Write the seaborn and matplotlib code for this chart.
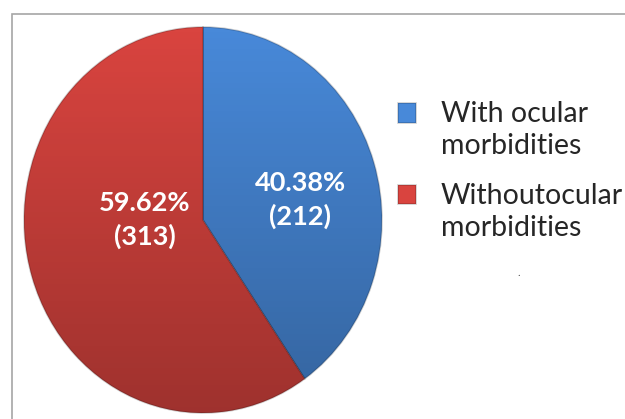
import numpy as np
import seaborn as sns
import matplotlib.pyplot as plt
import matplotlib.patches as mpatches
from matplotlib.legend_handler import HandlerPatch

# Datos del gráfico
categorias = ["With ocular\nmorbidities", "Withoutocular\nmorbidities"]
conteos = [212, 313]
porcentajes = [40.38, 59.62]
colores = ["#4889D9", "#D9443F"]

sns.set_style("white")
plt.rcParams['font.family'] = ['Lato', 'DejaVu Sans']

fig = plt.figure(figsize=(6.25, 4.19), dpi=100)
# eje colocado en pixeles para que la torta quede algo ovalada como el original
ax = fig.add_axes([24 / 625, 6 / 419, 358 / 625, 386 / 419])

wedges, _ = ax.pie(conteos, colors=colores, startangle=90, counterclock=False,
                   radius=1, wedgeprops=dict(linewidth=1.2, edgecolor="#00000030"))
ax.set_aspect('auto')
ax.set_xlim(-1, 1)
ax.set_ylim(-1, 1)
ax.axis('off')

# degradado vertical (mas oscuro abajo) recortado a cada porcion
grad = np.zeros((200, 2, 4))
t = np.linspace(0, 1, 200)[:, None]
grad[..., 3] = 0.27 * t
for w in wedges:
    im = ax.imshow(grad, extent=(-1, 1, -1, 1), origin='upper', aspect='auto',
                   zorder=w.get_zorder() + 0.5)
    im.set_clip_path(w)
    im.set_clip_on(True)

# etiquetas de porcentaje y conteo
pos_etiquetas = [(0.542, 0.104), (-0.324, 0.0)]
for (x, y), p, n in zip(pos_etiquetas, porcentajes, conteos):
    ax.text(x, y, f"{p:.2f}%\n({n})", color="white", fontsize=19.5, fontweight="bold",
            ha="center", va="center", linespacing=1.4, zorder=5)


# cuadrito de la leyenda alineado con la primera linea del texto
def cuadro(legend, orig_handle, xdescent, ydescent, width, height, fontsize):
    return mpatches.Rectangle((-xdescent, -ydescent + 0.62 * fontsize), width, height)


leg = ax.legend(wedges, categorias, loc="center left", bbox_to_anchor=(372 / 625, 1 - 171 / 419),
                bbox_transform=fig.transFigure, frameon=False, fontsize=20.5,
                handlelength=0.66, handleheight=0.66, handletextpad=0.85, labelspacing=0.85,
                handler_map={mpatches.Wedge: HandlerPatch(patch_func=cuadro)})
for txt in leg.get_texts():
    txt.set_linespacing(1.26)

fig.text(517 / 625, 1 - 276 / 419, ".", color="#555555", fontsize=8)

# marco del grafico (solo se ve arriba y a la izquierda)
fig.add_artist(mpatches.Rectangle((11.5 / 625, -0.1), 1.1, 1.1 - 14.5 / 419,
                                  transform=fig.transFigure, fill=False,
                                  edgecolor="#A6A6A6", linewidth=1.2))

fig.savefig("out.png", dpi=100)
